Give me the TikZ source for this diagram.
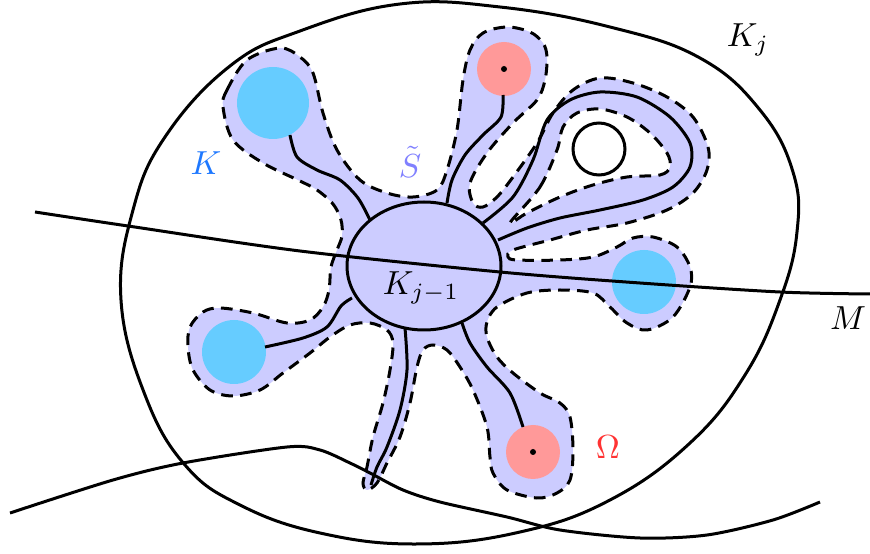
\documentclass[tikz,border=0pt]{standalone}
\usepackage{amsmath}
\usepackage{amssymb}
\usepackage{xcolor}
\usepackage{tikz}
\usetikzlibrary{calc}
\definecolor{lavender}{RGB}{204,204,255}
\definecolor{skyblue}{RGB}{102,204,255}
\definecolor{salmon}{RGB}{255,153,153}
\definecolor{kblue}{RGB}{30,120,255}
\definecolor{sblue}{RGB}{128,128,255}
\definecolor{ored}{RGB}{255,51,51}
\tikzset{
    region/.style={fill=lavender, draw=black, line width=0.9pt, dash pattern=on 3.5pt off 2.2pt, even odd rule},
    curve/.style={draw=black, line width=0.9pt},
    bluedisc/.style={fill=skyblue},
    reddisc/.style={fill=salmon},
    dot/.style={fill=black},
    tag/.style={inner sep=0pt},
}

\begin{document}
\begin{tikzpicture}[x=0.3pt, y=-0.3pt]
    \useasboundingbox (0,0) rectangle (870,554);

    % Neighbourhood S~ with its hole
    \path[region] plot[smooth cycle, tension=0.55] coordinates {
        (223,107) (227,90) (247,60) (280,48) (300,57) (313,73) (323,113) (337,150) (360,180) (387,193) (413,197) (437,190) (447,170)
        (457,130) (463,80) (470,50) (483,33) (507,27) (530,32) (543,43) (547,57) (545,80) (537,100) (513,123) (487,153) (470,183)
        (473,203) (483,207) (497,197) (513,177) (537,143) (553,113) (573,90) (600,78) (633,83) (667,97) (693,117) (708,147)
        (707,170) (693,193) (667,210) (627,223) (587,230) (550,240) (513,250) (508,257) (517,260) (560,260) (593,257) (617,247)
        (633,238) (653,237) (677,247) (690,267) (690,287) (673,317) (647,330) (627,323) (610,307) (593,293) (560,290) (527,293)
        (497,307) (487,322) (487,337) (497,357) (513,373) (540,393) (560,403) (570,417) (573,450) (570,480) (557,493) (537,498)
        (507,490) (493,473) (490,457) (487,427) (473,390) (460,367) (447,350) (433,345) (423,350) (417,367) (410,403) (400,437)
        (387,463) (377,483) (367,490) (363,483) (367,467) (373,437) (383,403) (390,370) (393,343) (387,330) (370,323) (350,325)
        (330,337) (310,353) (283,373) (260,390) (233,396) (210,390) (193,370) (188,347) (190,327) (203,312) (220,308) (253,313)
        (287,323) (310,320) (323,307) (329,290) (331,267) (337,250) (342,236) (341,220) (333,204) (317,190) (300,181) (263,163)
        (233,140)}
        plot[smooth cycle, tension=0.55] coordinates {
        (512,220) (540,187) (557,150) (563,127) (577,113) (600,109) (627,117) (650,133) (667,153) (670,167) (660,175) (627,177)
        (593,185) (560,197) (527,213) (513,222)};

    % Sets K and Omega
    \fill[bluedisc] (273,103) circle [radius=36];
    \fill[bluedisc] (234,352) circle [radius=32];
    \fill[bluedisc] (644,282) circle [radius=32];
    \fill[reddisc] (504,69) circle [radius=27];
    \fill[reddisc] (533,452) circle [radius=27];
    \fill[dot] (504,69) circle [radius=3];
    \fill[dot] (533,452) circle [radius=3];
    \draw[curve] (599,149) circle [radius=26];

    % Compact K_{j-1}
    \draw[curve, fill=lavender] (424,266) ellipse [x radius=77, y radius=64];

    % Arcs leaving K_{j-1}
    \draw[curve] plot[smooth] coordinates {(290,135) (297,157) (317,170) (340,180) (358,198) (370,220)};
    \draw[curve] plot[smooth] coordinates {(503,95) (501,117) (483,135) (465,155) (452,180) (447,203)};
    \draw[curve] plot[smooth] coordinates {(483,223) (513,197) (533,160) (547,120) (570,100) (600,92) (637,97) (670,117)
        (690,143) (690,167) (673,187) (643,200) (600,210) (560,218) (527,228) (498,240)};
    \draw[curve] plot[smooth] coordinates {(265,347) (303,338) (327,327) (341,306) (352,298)};
    \draw[curve] plot[smooth] coordinates {(405,328) (407,370) (400,410) (387,447) (377,467) (371,485)};
    \draw[curve] plot[smooth] coordinates {(462,323) (470,343) (487,367) (510,393) (523,427)};

    % Compact K_j
    \draw[curve] plot[smooth cycle, tension=0.7] coordinates {
        (121,300) (133,210) (165,137) (230,66) (300,31) (400,4) (500,7) (610,27) (700,58) (760,110) (793,172)
        (797,232) (780,300) (745,375) (690,443) (610,500) (520,532) (417,544) (320,533) (240,505) (185,465) (145,395)};

    % Manifold M and the lower curve
    \draw[curve] plot[smooth] coordinates {(35,212) (128,226) (300,251) (500,272) (640,283) (780,292) (870,294)};
    \draw[curve] plot[smooth] coordinates {(10,513) (113,480) (183,463) (287,447) (320,450) (350,463) (370,473) (403,490)
        (440,502) (507,517) (560,530) (640,538) (707,535) (773,520) (820,502)};

    % Labels
    \node[tag] (kj) at (748,40) {$K_j$};
    \node[tag] (mlab) at (848,318) {$M$};
    \node[tag, text=kblue] (klab) at (206,163) {$K$};
    \node[tag, text=sblue] (slab) at (410,162) {$\tilde{S}$};
    \node[tag] (kjm) at (421,288) {$K_{j-1}$};
    \node[tag, text=ored] (omega) at (608,447) {$\Omega$};
\end{tikzpicture}
\end{document}
